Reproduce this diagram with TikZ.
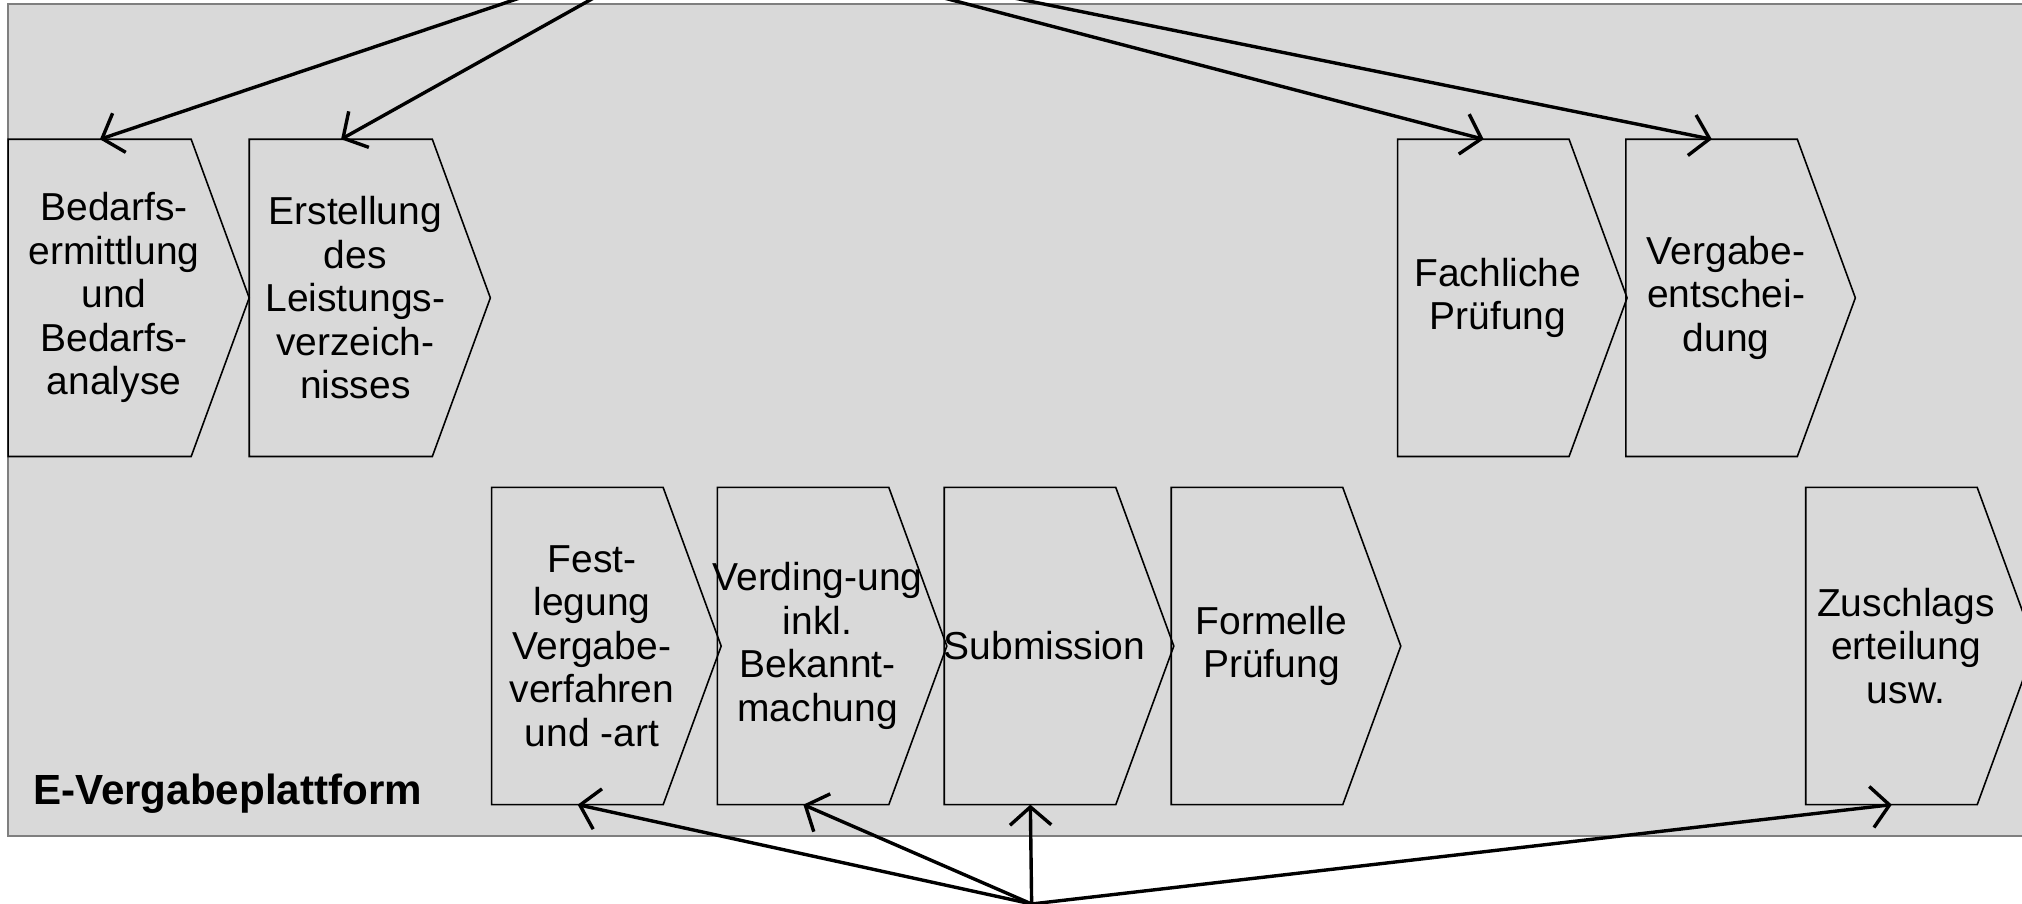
\documentclass[tikz,border=0pt]{standalone}
\usepackage{fontspec}
\setmainfont{Liberation Sans}
\usetikzlibrary{arrows.meta, positioning}
\definecolor{platform}{HTML}{D9D9D9}
\definecolor{frame}{HTML}{7F7F7F}

\begin{document}
\begin{tikzpicture}[
			phase/.style = {minimum height = 2.46cm, inner sep = 0pt, outer sep = 0pt, align = center, font = \fontsize{8.6}{9.6}\selectfont},
			outline/.style = {draw, line width = 0.35pt},
			link/.style = {-{Straight Barb[length = 1.4mm, width = 3.2mm]}, line width = 0.75pt}
		]

			\useasboundingbox (0,0) rectangle (15.68,7.01);

			% platform background
			\draw[fill = platform, draw = frame, line width = 0.4pt] (0.06,0.53) rectangle (15.75,6.98);

			\node (b1) [phase] at (0.885,4.70) {Bedarfs-\\ermittlung\\und\\Bedarfs-\\analyse};
			\node (b2) [phase, right of = b1, node distance = 1.87cm] {Erstellung\\des\\Leistungs-\\verzeich-\\nisses};
			\node (b3) [phase, right of = b2, node distance = 8.86cm] {Fachliche\\Prüfung};
			\node (b4) [phase, right of = b3, node distance = 1.77cm] {Vergabe-\\entschei-\\dung};

			\node (c1) [phase] at (4.59,2.00) {Fest-\\legung\\Vergabe-\\verfahren\\und -art};
			\node (c2) [phase, right of = c1, node distance = 1.75cm] {Verding-ung\\inkl.\\Bekannt-\\machung};
			\node (c3) [phase, right of = c2, node distance = 1.76cm] {Submission};
			\node (c4) [phase, right of = c3, node distance = 1.76cm] {Formelle\\Prüfung};
			\node (c5) [phase, right of = c4, node distance = 4.92cm] {Zuschlags\\erteilung\\usw.};

			\node (label) [anchor = base west, inner sep = 0pt, font = \bfseries\fontsize{9.3}{11}\selectfont] at (0.25,0.77) {E-Vergabeplattform};

			% chevron outlines
			\foreach \n/\b in {b1/1.42, b2/1.42, b3/1.33, b4/1.33, c1/1.33, c2/1.33, c3/1.33, c4/1.33, c5/1.33} {
				\pgfmathsetmacro{\xl}{-(\b+0.225)/2}
				\pgfmathsetmacro{\xr}{\xl+\b}
				\pgfmathsetmacro{\xt}{\xr+0.45}
				\draw[outline] ([xshift = \xl cm]\n.north) -- ([xshift = \xr cm]\n.north) -- ([xshift = \xt cm]\n.center)
					-- ([xshift = \xr cm]\n.south) -- ([xshift = \xl cm]\n.south) -- cycle;
			}

			\coordinate (above) at (5.47,7.51);
			\coordinate (below) at (8.00,0.00);

			\path
			(above) edge [link] ([xshift = -0.11cm]b1.north)
			(above) edge [link] ([xshift = -0.11cm]b2.north)
			(above) edge [link] ([xshift = -0.11cm]b3.north)
			(above) edge [link] ([xshift = -0.11cm]b4.north)
			(below) edge [link] ([xshift = -0.11cm]c1.south)
			(below) edge [link] ([xshift = -0.11cm]c2.south)
			(below) edge [link] ([xshift = -0.11cm]c3.south)
			(below) edge [link] ([xshift = -0.11cm]c5.south);
		\end{tikzpicture}
\end{document}
